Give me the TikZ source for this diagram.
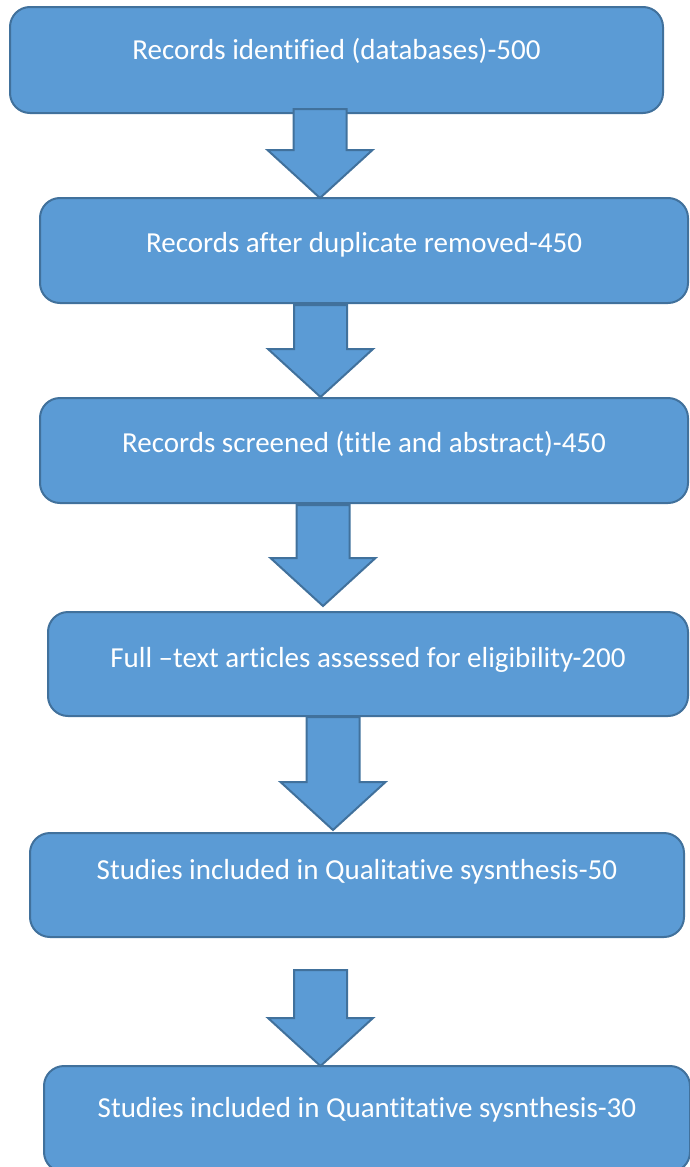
\documentclass[tikz,border=0pt]{standalone}
\usepackage{fontspec}
\setmainfont{Carlito}[Ligatures={NoCommon}]
\usetikzlibrary{positioning}
\usetikzlibrary{calc}
\definecolor{boxfill}{HTML}{5B9BD5}
\definecolor{boxline}{HTML}{41719C}
\tikzset{
    stage/.style={draw=boxline, fill=boxfill, line width=2pt, rounded corners=20pt, inner sep=0pt},
    stagetext/.style={text=white, font=\fontsize{29}{33}\selectfont, anchor=base, inner sep=0pt},
    blockarrow/.style={draw=boxline, fill=boxfill, line width=2pt, line join=miter}
}
% box: name, centre, width, height, baseline of its text, text
\newcommand{\stagebox}[6]{%
    \node [stage, minimum width=#3pt, minimum height=#4pt] (#1) at (#2) {};
    \node [stagetext] (#1text) at ($ (#1.center |- 0,#5) $) {#6};%
}
% block arrow: name, top of shaft, tip
\newcommand{\downblock}[3]{%
    \coordinate (#1top) at (#2);
    \coordinate (#1tip) at (#3);
    \coordinate (#1head) at ($ (#1tip) + (0,-48) $);
    \draw [blockarrow] ($ (#1top) + (-26.5,0) $) -- ($ (#1top) + (26.5,0) $)
        -- ($ (#1head -| #1top) + (26.5,0) $) -- ($ (#1head) + (52.5,0) $)
        -- (#1tip) -- ($ (#1head) + (-52.5,0) $)
        -- ($ (#1head -| #1top) + (-26.5,0) $) -- cycle;%
}

\begin{document}
\begin{tikzpicture}[x=1pt, y=-1pt]
    \useasboundingbox (0,0) rectangle (689,1167);

    \stagebox{ident}{336.5,60}{653}{106}{59}{Records identified (databases)-500}
    \stagebox{dupl}{364,250.5}{648}{105}{252}{Records after duplicate removed-450}
    \stagebox{screen}{364,450.5}{648}{105}{452}{Records screened (title and abstract)-450}
    \stagebox{full}{368,664}{640}{104}{667}{Full –text articles assessed for eligibility-200}
    \stagebox{qual}{357,885}{654}{104}{879}{Studies included in Qualitative sysnthesis-50}
    \stagebox{quant}{367,1119}{646}{106}{1117}{Studies included in Quantitative sysnthesis-30}

    %%%%%%

    \downblock{aa}{320,109}{320,198}
    \downblock{ab}{320.5,305}{320.5,397}
    \downblock{ac}{323,505}{323,606}
    \downblock{ad}{333,717}{333,830}
    \downblock{ae}{320.5,970}{320.5,1066}

\end{tikzpicture}
\end{document}
